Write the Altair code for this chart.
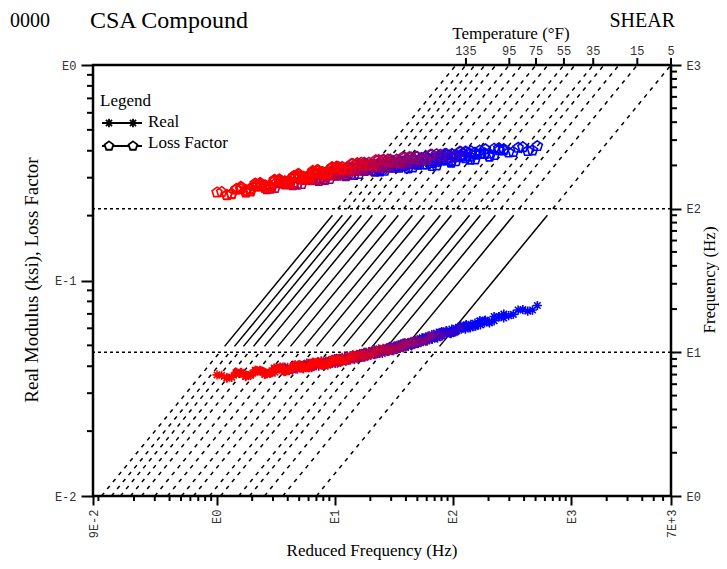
import altair as alt
import pandas as pd

W, H = 578, 431

# ---------------- data ----------------
temps = [145, 135, 125, 115, 105, 95, 85, 75, 65, 55, 45, 35, 25, 20, 15, 5]
log_shift = [-0.974, -0.890, -0.814, -0.729, -0.636, -0.523, -0.416, -0.297,
             -0.196, -0.061, 0.033, 0.187, 0.278, 0.405, 0.560, 0.845]
labeled_temps = [135, 95, 75, 55, 35, 15, 5]

# two interleaved sweeps of test frequencies (Hz)
freqs_a_hz = [9.5, 11.5, 13.8, 16.6, 20.0, 24.2, 29.1, 35.1, 42.3, 50.9, 61.4, 74.0]
freqs_b_hz = [10.4, 12.6, 15.1, 18.2, 22.0, 26.5, 31.9, 38.5, 46.3, 55.8, 67.3]

# log10 of real modulus (ksi): one row per temperature
real_a = [
    [-1.438, -1.453, -1.434, -1.446, -1.417, -1.428, -1.410, -1.421, -1.398, -1.404, -1.379, -1.393],
    [-1.451, -1.426, -1.439, -1.423, -1.434, -1.408, -1.423, -1.400, -1.402, -1.381, -1.392, -1.372],
    [-1.428, -1.444, -1.425, -1.436, -1.406, -1.415, -1.397, -1.408, -1.385, -1.391, -1.366, -1.376],
    [-1.441, -1.417, -1.430, -1.412, -1.421, -1.394, -1.410, -1.387, -1.388, -1.368, -1.376, -1.352],
    [-1.418, -1.433, -1.413, -1.422, -1.391, -1.401, -1.382, -1.393, -1.370, -1.372, -1.344, -1.354],
    [-1.429, -1.402, -1.413, -1.395, -1.404, -1.377, -1.393, -1.368, -1.366, -1.343, -1.351, -1.327],
    [-1.402, -1.415, -1.395, -1.404, -1.373, -1.383, -1.361, -1.369, -1.343, -1.345, -1.317, -1.327],
    [-1.410, -1.383, -1.395, -1.376, -1.385, -1.355, -1.367, -1.341, -1.339, -1.315, -1.323, -1.298],
    [-1.384, -1.397, -1.376, -1.384, -1.350, -1.356, -1.334, -1.342, -1.316, -1.318, -1.288, -1.295],
    [-1.391, -1.363, -1.371, -1.349, -1.356, -1.326, -1.338, -1.312, -1.309, -1.282, -1.286, -1.259],
    [-1.364, -1.374, -1.350, -1.356, -1.322, -1.328, -1.306, -1.313, -1.283, -1.282, -1.251, -1.258],
    [-1.363, -1.333, -1.341, -1.319, -1.325, -1.294, -1.303, -1.273, -1.268, -1.241, -1.246, -1.218],
    [-1.334, -1.344, -1.320, -1.326, -1.290, -1.293, -1.268, -1.273, -1.243, -1.242, -1.211, -1.218],
    [-1.336, -1.306, -1.314, -1.289, -1.292, -1.258, -1.267, -1.238, -1.232, -1.205, -1.211, -1.184],
    [-1.299, -1.306, -1.279, -1.281, -1.244, -1.247, -1.222, -1.226, -1.198, -1.197, -1.167, -1.174],
    [-1.271, -1.237, -1.242, -1.217, -1.220, -1.187, -1.197, -1.168, -1.163, -1.137, -1.142, -1.116],
]
real_b = [
    [-1.440, -1.449, -1.426, -1.436, -1.419, -1.431, -1.411, -1.414, -1.392, -1.402, -1.383],
    [-1.448, -1.427, -1.436, -1.420, -1.430, -1.410, -1.416, -1.391, -1.399, -1.382, -1.390],
    [-1.430, -1.440, -1.417, -1.425, -1.407, -1.418, -1.398, -1.401, -1.379, -1.389, -1.368],
    [-1.438, -1.418, -1.426, -1.408, -1.417, -1.396, -1.403, -1.378, -1.385, -1.367, -1.372],
    [-1.420, -1.428, -1.404, -1.411, -1.392, -1.404, -1.383, -1.386, -1.362, -1.368, -1.346],
    [-1.425, -1.402, -1.409, -1.391, -1.400, -1.379, -1.385, -1.357, -1.362, -1.342, -1.347],
    [-1.403, -1.410, -1.386, -1.393, -1.374, -1.384, -1.360, -1.360, -1.335, -1.341, -1.319],
    [-1.406, -1.383, -1.391, -1.372, -1.379, -1.355, -1.358, -1.330, -1.334, -1.314, -1.319],
    [-1.385, -1.392, -1.366, -1.371, -1.349, -1.357, -1.333, -1.333, -1.308, -1.313, -1.289],
    [-1.386, -1.361, -1.365, -1.344, -1.350, -1.326, -1.329, -1.301, -1.303, -1.279, -1.281],
    [-1.363, -1.367, -1.339, -1.343, -1.321, -1.329, -1.305, -1.302, -1.274, -1.277, -1.252],
    [-1.357, -1.331, -1.335, -1.313, -1.319, -1.293, -1.292, -1.261, -1.262, -1.239, -1.240],
    [-1.333, -1.337, -1.309, -1.312, -1.288, -1.293, -1.266, -1.262, -1.234, -1.237, -1.212],
    [-1.330, -1.304, -1.307, -1.282, -1.284, -1.257, -1.257, -1.225, -1.226, -1.203, -1.206],
    [-1.297, -1.298, -1.266, -1.267, -1.242, -1.247, -1.219, -1.216, -1.189, -1.192, -1.168],
    [-1.263, -1.234, -1.235, -1.210, -1.213, -1.186, -1.187, -1.156, -1.157, -1.135, -1.137],
]

# log10 of loss factor
loss_a = [
    [-0.591, -0.603, -0.576, -0.581, -0.550, -0.558, -0.532, -0.544, -0.516, -0.519, -0.491, -0.496],
    [-0.604, -0.575, -0.583, -0.552, -0.565, -0.537, -0.547, -0.515, -0.521, -0.494, -0.503, -0.474],
    [-0.578, -0.590, -0.563, -0.568, -0.537, -0.545, -0.519, -0.531, -0.502, -0.504, -0.475, -0.481],
    [-0.591, -0.562, -0.570, -0.539, -0.552, -0.524, -0.533, -0.501, -0.506, -0.478, -0.487, -0.459],
    [-0.564, -0.576, -0.548, -0.554, -0.522, -0.530, -0.503, -0.514, -0.485, -0.487, -0.459, -0.464],
    [-0.574, -0.545, -0.553, -0.523, -0.534, -0.505, -0.514, -0.481, -0.486, -0.459, -0.468, -0.442],
    [-0.546, -0.558, -0.530, -0.535, -0.502, -0.509, -0.482, -0.493, -0.464, -0.467, -0.441, -0.450],
    [-0.556, -0.526, -0.533, -0.501, -0.513, -0.484, -0.492, -0.459, -0.467, -0.442, -0.455, -0.429],
    [-0.527, -0.538, -0.509, -0.514, -0.481, -0.488, -0.460, -0.475, -0.449, -0.455, -0.429, -0.438],
    [-0.534, -0.503, -0.511, -0.479, -0.490, -0.463, -0.475, -0.445, -0.454, -0.429, -0.442, -0.416],
    [-0.505, -0.516, -0.488, -0.492, -0.462, -0.472, -0.447, -0.462, -0.436, -0.442, -0.416, -0.425],
    [-0.510, -0.480, -0.489, -0.460, -0.475, -0.449, -0.461, -0.431, -0.440, -0.416, -0.428, -0.403],
    [-0.482, -0.495, -0.470, -0.477, -0.448, -0.458, -0.434, -0.448, -0.423, -0.429, -0.403, -0.412],
    [-0.494, -0.466, -0.477, -0.448, -0.463, -0.437, -0.449, -0.419, -0.428, -0.404, -0.416, -0.391],
    [-0.465, -0.480, -0.454, -0.462, -0.432, -0.443, -0.418, -0.433, -0.407, -0.413, -0.388, -0.397],
    [-0.469, -0.442, -0.453, -0.424, -0.439, -0.413, -0.425, -0.395, -0.406, -0.384, -0.399, -0.376],
]
loss_b = [
    [-0.589, -0.597, -0.565, -0.573, -0.547, -0.559, -0.531, -0.536, -0.505, -0.516, -0.487],
    [-0.600, -0.569, -0.576, -0.549, -0.563, -0.532, -0.539, -0.508, -0.516, -0.488, -0.497],
    [-0.576, -0.584, -0.552, -0.560, -0.534, -0.546, -0.518, -0.522, -0.490, -0.500, -0.472],
    [-0.587, -0.556, -0.563, -0.536, -0.550, -0.519, -0.525, -0.493, -0.500, -0.472, -0.482],
    [-0.562, -0.570, -0.537, -0.546, -0.519, -0.531, -0.501, -0.505, -0.473, -0.484, -0.455],
    [-0.570, -0.539, -0.546, -0.519, -0.531, -0.500, -0.505, -0.473, -0.481, -0.453, -0.464],
    [-0.544, -0.552, -0.519, -0.526, -0.498, -0.510, -0.480, -0.484, -0.453, -0.465, -0.439],
    [-0.552, -0.519, -0.525, -0.498, -0.510, -0.478, -0.483, -0.453, -0.463, -0.438, -0.451],
    [-0.524, -0.531, -0.498, -0.505, -0.477, -0.488, -0.460, -0.468, -0.439, -0.453, -0.427],
    [-0.529, -0.497, -0.503, -0.475, -0.488, -0.459, -0.468, -0.439, -0.450, -0.425, -0.438],
    [-0.502, -0.510, -0.476, -0.485, -0.460, -0.474, -0.447, -0.455, -0.426, -0.440, -0.414],
    [-0.506, -0.474, -0.483, -0.458, -0.474, -0.445, -0.454, -0.425, -0.436, -0.412, -0.424],
    [-0.480, -0.490, -0.460, -0.470, -0.446, -0.460, -0.434, -0.441, -0.413, -0.427, -0.401],
    [-0.491, -0.461, -0.471, -0.446, -0.462, -0.433, -0.442, -0.413, -0.424, -0.400, -0.412],
    [-0.464, -0.475, -0.444, -0.455, -0.430, -0.445, -0.418, -0.426, -0.397, -0.411, -0.386],
    [-0.466, -0.437, -0.447, -0.422, -0.438, -0.409, -0.418, -0.390, -0.403, -0.381, -0.396],
]

# isotherm segments (frequency ranges, Hz)
dash_ranges = [(1, 10), (100, 1000)]
solid_range = (11, 90)

# ---------------- tables ----------------
pts = []
for i, T in enumerate(temps):
    a = 10 ** log_shift[i]
    for freqs, rr, ll in ((freqs_a_hz, real_a, loss_a), (freqs_b_hz, real_b, loss_b)):
        for j, f in enumerate(freqs):
            pts.append({"T": T, "fr": f * a,
                        "real": 10 ** rr[i][j], "loss": 10 ** ll[i][j]})
# cold first so the hot (red) measurements are drawn on top
pts = pd.DataFrame(pts).sort_values("T", kind="stable").reset_index(drop=True)

iso_dash, iso_solid = [], []
for i, T in enumerate(temps):
    a = 10 ** log_shift[i]
    for k, (f0, f1) in enumerate(dash_ranges):
        for f in (f0, f1):
            iso_dash.append({"seg": f"{T}_{k}", "f": f, "fr": f * a})
    for f in solid_range:
        iso_solid.append({"seg": f"{T}", "f": f, "fr": f * a})
iso_dash = pd.DataFrame(iso_dash)
iso_solid = pd.DataFrame(iso_solid)

top_ticks = pd.DataFrame({
    "T": labeled_temps,
    "fr": [1000 * 10 ** log_shift[temps.index(t)] for t in labeled_temps],
})
top_ticks["lab"] = top_ticks["T"].astype(str)

minor_x = pd.DataFrame({"v": [0.1] + [k * 10 ** d for d in (-1, 0, 1, 2, 3)
                              for k in range(2, 10) if k * 10 ** d < 7000]})
minor_l = pd.DataFrame({"v": [k * 10 ** d for d in (-2, -1) for k in range(2, 10)]})
minor_r = pd.DataFrame({"v": [k * 10 ** d for d in (0, 1, 2) for k in range(2, 10)]})
hlines = pd.DataFrame({"f": [10, 100]})

# ---------------- scales / axes ----------------
MONO = "Liberation Mono"
SERIF = "Liberation Serif"
XS = alt.Scale(type="log", domain=[0.09, 7000], nice=False)
YL = alt.Scale(type="log", domain=[0.01, 1], nice=False)
YR = alt.Scale(type="log", domain=[1, 1000], nice=False)

common = dict(grid=False, domain=False, tickColor="black", tickWidth=2,
              labelFont=MONO, labelFontSize=12, labelColor="#333",
              labelOverlap=False, labelFlush=False, title=None)
AXB = alt.Axis(orient="bottom", values=[0.09, 1, 10, 100, 1000, 7000],
               labelExpr="datum.value < 0.5 ? '9E-2' : datum.value < 5 ? 'E0' : "
                         "datum.value < 50 ? 'E1' : datum.value < 500 ? 'E2' : "
                         "datum.value < 5000 ? 'E3' : '7E+3'",
               labelAngle=270, tickSize=9, labelPadding=4, **common)
AXL = alt.Axis(orient="left", values=[0.01, 0.1, 1],
               labelExpr="'E' + round(log(datum.value)/LN10)",
               tickSize=12, labelPadding=5, **common)
AXR = alt.Axis(orient="right", values=[1, 10, 100, 1000],
               labelExpr="'E' + round(log(datum.value)/LN10)",
               tickSize=10, labelPadding=5, **common)

X = lambda f: alt.X(f, scale=XS, axis=AXB)

STAR = "M-1,0L1,0M0,-1L0,1M-0.7,-0.7L0.7,0.7M-0.7,0.7L0.7,-0.7"
PENT = "M0,-1L0.951,-0.309L0.588,0.809L-0.588,0.809L-0.951,-0.309Z"
COLOR = alt.Color("T:Q", scale=alt.Scale(domain=[5, 20, 55, 125, 145],
                                         range=["#0000ff", "#0000ff", "#800080", "#ff0000", "#ff0000"],
                                         interpolate="rgb"),
                  legend=None)

one = alt.Data(values=[{"a": 1}])


def txt(s, x, y, size, align="center", angle=0, font=SERIF, color="black"):
    return alt.Chart(one).mark_text(
        text=s, font=font, fontSize=size, align=align, baseline="middle",
        angle=angle, color=color
    ).encode(x=alt.value(x), y=alt.value(y))


# ---------------- right (frequency) group ----------------
dash = alt.Chart(iso_dash).mark_line(color="black", strokeWidth=1.5, strokeDash=[4, 5]).encode(
    x=X("fr:Q"), y=alt.Y("f:Q", scale=YR, axis=AXR), detail="seg:N", order="f:Q")
solid = alt.Chart(iso_solid).mark_line(color="black", strokeWidth=1.5).encode(
    x=X("fr:Q"), y=alt.Y("f:Q", scale=YR, axis=AXR), detail="seg:N", order="f:Q")
hrule = alt.Chart(hlines).mark_rule(color="black", strokeWidth=1.5, strokeDash=[3, 3]).encode(
    y=alt.Y("f:Q", scale=YR, axis=AXR))
rminor = alt.Chart(minor_r).mark_rule(color="black", strokeWidth=2).encode(
    y=alt.Y("v:Q", scale=YR, axis=AXR), x=alt.value(W), x2=alt.value(W + 6))
right = alt.layer(dash, solid, hrule, rminor)

# ---------------- left (modulus) group ----------------
real = alt.Chart(pts).mark_point(shape=STAR, size=85, strokeWidth=1.6, filled=False, opacity=1).encode(
    x=X("fr:Q"), y=alt.Y("real:Q", scale=YL, axis=AXL), color=COLOR)
loss = alt.Chart(pts).mark_point(shape=PENT, size=110, strokeWidth=1.6, filled=False, opacity=1).encode(
    x=X("fr:Q"), y=alt.Y("loss:Q", scale=YL, axis=AXL), color=COLOR)
lminor = alt.Chart(minor_l).mark_rule(color="black", strokeWidth=2).encode(
    y=alt.Y("v:Q", scale=YL, axis=AXL), x=alt.value(0), x2=alt.value(-6))
bminor = alt.Chart(minor_x).mark_rule(color="black", strokeWidth=2).encode(
    x=X("v:Q"), y=alt.value(H), y2=alt.value(H + 5))
tticks = alt.Chart(top_ticks).mark_rule(color="black", strokeWidth=2).encode(
    x=X("fr:Q"), y=alt.value(0), y2=alt.value(-7))
tlabels = alt.Chart(top_ticks).mark_text(font=MONO, fontSize=12, color="#333",
                                         baseline="middle").encode(
    x=X("fr:Q"), y=alt.value(-14), text="lab:N")

# legend glyphs
leg_real_line = alt.Chart(one).mark_rule(color="black", strokeWidth=2).encode(
    x=alt.value(9), x2=alt.value(49), y=alt.value(58))
leg_loss_line = alt.Chart(one).mark_rule(color="black", strokeWidth=2).encode(
    x=alt.value(9), x2=alt.value(49), y=alt.value(81))
leg_real_pts = [alt.Chart(one).mark_point(shape=STAR, size=75, strokeWidth=1.8, color="black",
                                          opacity=1).encode(x=alt.value(px), y=alt.value(58))
                for px in (16, 40)]
leg_loss_pts = [alt.Chart(one).mark_point(shape=PENT, size=85, strokeWidth=1.8, stroke="black",
                                          fill="white", filled=True, opacity=1).encode(
    x=alt.value(px), y=alt.value(81)) for px in (16, 40)]

texts = [
    txt("0000", -83, -44, 20, align="left"),
    txt("CSA Compound", -3, -44, 24, align="left"),
    txt("SHEAR", 582, -44, 20, align="right"),
    txt("Temperature (°F)", 418, -31, 17),
    txt("Real Modulus (ksi), Loss Factor", -61, 215, 19, angle=270),
    txt("Reduced Frequency (Hz)", 279, 486, 17),
    txt("Frequency (Hz)", 617, 215, 17, angle=270),
    txt("Legend", 7, 36, 17, align="left"),
    txt("Real", 55, 57, 17, align="left"),
    txt("Loss Factor", 55, 78, 17, align="left"),
]

left = alt.layer(real, loss, lminor, bminor, tticks, tlabels,
                 leg_real_line, leg_loss_line, *leg_real_pts, *leg_loss_pts, *texts)

chart = alt.layer(right, left).resolve_scale(y="independent").properties(
    width=W, height=H,
    autosize=alt.AutoSizeParams(type="none"),
    padding={"left": 85, "top": 57, "right": 48, "bottom": 65},
).configure_view(stroke="black", strokeWidth=2.5)

chart.save("out.html", embed_options={"renderer": "svg", "actions": False})
